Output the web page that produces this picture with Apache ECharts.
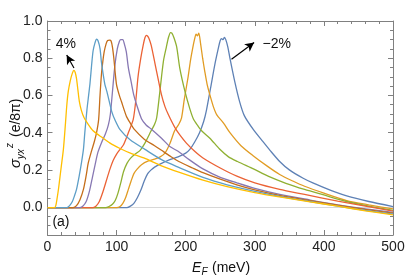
<!DOCTYPE html>
<html>
<head>
<meta charset="utf-8">
<script src="https://cdn.jsdelivr.net/npm/echarts@6/dist/echarts.min.js"></script>
<style>
html,body{margin:0;padding:0;background:#fff;}
#c{width:415px;height:277px;}
</style>
</head>
<body>
<div id="c"></div>
<script>
// x: E_F (meV), y: sigma_yx^z (e/8pi)
const xTicks = [0, 100, 200, 300, 400, 500];
const yTicks = [0, 0.2, 0.4, 0.6, 0.8, 1.0];
const yMinorTicks = [-0.15,-0.1,-0.05,0.05,0.1,0.15,0.25,0.3,0.35,0.45,0.5,0.55,0.65,0.7,0.75,0.85,0.9,0.95];

const curveBlue = [[0,-0.003],[115,-0.003],[120,0.005],[125,0.02],[130,0.05],[135,0.09],[140,0.14],[145,0.18],[150,0.2],[155,0.215],[165,0.235],[177,0.255],[189,0.27],[200,0.29],[206,0.31],[213,0.35],[220,0.4],[226,0.46],[230,0.52],[236,0.64],[242,0.763],[247,0.85],[250,0.895],[252,0.905],[254,0.9],[256,0.912],[258,0.9],[261,0.86],[264,0.8],[271,0.674],[278,0.567],[285,0.49],[298,0.416],[310,0.36],[322,0.305],[336,0.245],[350,0.2],[370,0.155],[384,0.13],[410,0.09],[433,0.06],[465,0.03],[500,0.003]];
const curveOrange = [[0,-0.003],[100,-0.003],[105,0.003],[109,0.02],[113,0.05],[117,0.095],[121,0.14],[125,0.18],[130,0.205],[136,0.228],[146,0.248],[155,0.258],[163,0.27],[170,0.29],[177,0.34],[184,0.41],[190,0.445],[194,0.48],[198,0.58],[203.5,0.7],[207,0.79],[210,0.852],[213,0.905],[215,0.93],[217,0.92],[219,0.935],[221.5,0.88],[224.5,0.8],[227.7,0.727],[231,0.66],[235,0.603],[240,0.54],[245,0.496],[255,0.45],[264,0.4],[280,0.33],[298,0.275],[318,0.22],[336,0.175],[355,0.14],[372,0.112],[400,0.075],[433,0.035],[465,0.012],[500,-0.01]];
const curveGreen = [[0,-0.003],[84,-0.003],[89,0.003],[94,0.015],[98,0.035],[102,0.075],[106,0.13],[110,0.19],[115,0.235],[120,0.262],[127,0.285],[134,0.305],[141,0.344],[150,0.41],[155,0.445],[158,0.48],[162,0.6],[165,0.7],[168,0.79],[172,0.86],[175,0.91],[178,0.938],[180,0.935],[183,0.91],[187,0.86],[191.5,0.745],[199,0.62],[206,0.528],[211,0.475],[217,0.44],[223,0.41],[235,0.37],[249,0.312],[262,0.27],[275,0.245],[298,0.205],[320,0.165],[345,0.128],[372,0.095],[400,0.065],[433,0.03],[465,0.005],[500,-0.018]];
const curveRed = [[0,-0.003],[65,-0.003],[70,0.005],[75,0.03],[80,0.08],[85,0.14],[90,0.2],[95,0.25],[100,0.285],[105,0.31],[110,0.335],[117,0.4],[124,0.47],[128,0.58],[131,0.7],[135,0.8],[138.5,0.87],[141,0.91],[143,0.923],[145,0.918],[147,0.905],[150,0.87],[154,0.8],[158,0.727],[165,0.603],[170,0.54],[175,0.496],[184,0.43],[192,0.385],[201,0.344],[213,0.3],[225,0.264],[250,0.21],[274,0.166],[300,0.13],[336,0.095],[372,0.068],[420,0.032],[460,0.005],[500,-0.022]];
const curvePurple = [[0,-0.003],[46,-0.003],[51,0.005],[56,0.03],[61,0.09],[65,0.16],[69,0.23],[73,0.295],[78,0.345],[84,0.395],[88,0.44],[91,0.5],[94,0.62],[97.5,0.76],[101,0.85],[104,0.89],[106,0.9],[109,0.9],[111,0.88],[114,0.835],[117,0.75],[121,0.674],[125,0.6],[129,0.55],[136,0.475],[143,0.44],[150,0.42],[165,0.37],[177,0.325],[189,0.3],[205,0.255],[225,0.205],[250,0.16],[274,0.13],[300,0.1],[336,0.068],[380,0.038],[420,0.012],[460,-0.01],[500,-0.028]];
const curveBrown = [[0,-0.003],[37,-0.003],[42,0.008],[47,0.04],[52,0.095],[56,0.17],[59,0.237],[64,0.305],[68,0.355],[71,0.4],[74,0.47],[76,0.6],[78,0.71],[80,0.78],[82,0.834],[85,0.88],[87,0.895],[90,0.897],[92,0.893],[94,0.86],[96,0.8],[98,0.72],[100,0.656],[104,0.6],[107,0.567],[114,0.49],[120,0.45],[126,0.416],[140,0.365],[155,0.33],[165,0.305],[177,0.275],[190,0.245],[210,0.21],[225,0.185],[250,0.15],[274,0.12],[300,0.093],[336,0.063],[380,0.035],[420,0.01],[460,-0.012],[500,-0.032]];
const curveLightBlue = [[0,-0.003],[28,-0.003],[32,0.008],[36,0.03],[39,0.06],[42,0.095],[46,0.17],[49,0.235],[52,0.31],[54,0.4],[57,0.52],[59.5,0.6],[61.5,0.665],[64,0.77],[66,0.84],[68.5,0.88],[71,0.902],[73,0.895],[76,0.852],[78,0.78],[80.7,0.71],[83,0.66],[86,0.62],[93,0.513],[98,0.465],[105,0.416],[120,0.36],[141,0.31],[165,0.255],[189,0.215],[225,0.16],[260,0.12],[300,0.085],[336,0.058],[380,0.03],[420,0.005],[460,-0.018],[500,-0.038]];
const curveYellow = [[0,-0.003],[10,-0.003],[12,0.008],[14,0.05],[16,0.1],[18,0.16],[20,0.22],[23,0.31],[26,0.45],[28,0.55],[30,0.62],[33,0.68],[36,0.72],[38,0.735],[40,0.725],[42,0.69],[44,0.63],[46,0.57],[49,0.52],[53,0.48],[58,0.45],[66,0.41],[75,0.385],[90,0.345],[105,0.315],[120,0.29],[141,0.262],[165,0.222],[190,0.188],[225,0.145],[260,0.11],[300,0.078],[340,0.052],[380,0.028],[420,0.005],[460,-0.02],[500,-0.042]];

const curves = [curveBlue, curveOrange, curveGreen, curveRed, curvePurple, curveBrown, curveLightBlue, curveYellow];
const colors = ['#5E81B5','#E19C24','#8FB032','#EB6235','#8778B3','#C56E1A','#5D9EC7','#FFBF00'];

// annotations (data coordinates)
const arrow4 = [[38.3,0.747],[27.8,0.817]];
const arrowM2 = [[266.3,0.794],[299,0.884]];
const label4 = {text:'4%', at:[26.7,0.876]};
const labelM2 = {text:'\u22122%', at:[331.8,0.875]};
const labelA = {text:'(a)', at:[19.5,-0.083]};

const FONT = "'Liberation Sans', Arial, sans-serif";
const frameColor = '#808080';

const chart = echarts.init(document.getElementById('c'), null, {renderer:'canvas'});

function xAx(pos, showLabel){
  return {
    type:'value', position:pos, min:0, max:500, interval:100,
    axisLine:{show:true, onZero:false, lineStyle:{color:frameColor, width:1}},
    axisTick:{show:true, inside:true, length:5, lineStyle:{color:frameColor}},
    minorTick:{show:true, splitNumber:5, length:3, lineStyle:{color:frameColor}},
    splitLine:{show:false}, minorSplitLine:{show:false},
    axisLabel:{show:showLabel, fontSize:14, color:'#222', fontFamily:FONT, margin:5}
  };
}
function yAx(pos, major){
  return {
    type:'value', position:pos, min:-0.15, max:1.0,
    axisLine:{show:major, onZero:false, lineStyle:{color:frameColor, width:1}},
    axisTick:{show:true, inside:true, length: major?5:3, customValues: major ? yTicks : yMinorTicks, lineStyle:{color:frameColor}},
    splitLine:{show:false},
    axisLabel:{show: major && pos==='left', customValues: yTicks, fontSize:14, color:'#222', fontFamily:FONT, margin:5,
      formatter:v=>v.toFixed(1)}
  };
}

const series = curves.map((d,i)=>({
  type:'line', data:d, xAxisIndex:0, yAxisIndex:0, showSymbol:false, symbol:'none',
  smooth:0.25, color:colors[i], lineStyle:{width:1.3, color:colors[i]}, z:3+i, silent:true
}));
series[0].markLine = {
  silent:true, symbol:['none','none'], animation:false,
  lineStyle:{color:'#d8d8d8', width:1, type:'solid'}, label:{show:false},
  data:[{yAxis:0}], z:1
};
series.push({
  type:'line', data:[], xAxisIndex:0, yAxisIndex:0, z:20,
  markLine:{
    silent:true, animation:false, symbol:['none','arrow'], symbolSize:[7,9],
    lineStyle:{color:'#000', width:1.2, type:'solid'}, label:{show:false},
    data:[
      [{coord:arrow4[0]},{coord:arrow4[1]}],
      [{coord:arrowM2[0]},{coord:arrowM2[1]}]
    ]
  }
});

chart.setOption({
  animation:false,
  backgroundColor:'#fff',
  grid:{left:47.5, right:22, top:21, bottom:42, containLabel:false},
  xAxis:[xAx('bottom',true), xAx('top',false)],
  yAxis:[yAx('left',true), yAx('left',false), yAx('right',true), yAx('right',false)],
  series:series
});

function px(p){ return chart.convertToPixel({gridIndex:0}, p); }
const p4 = px(label4.at), pM2 = px(labelM2.at), pA = px(labelA.at);
const textStyleBase = {fontFamily:FONT, fontSize:14, fill:'#111', align:'center', verticalAlign:'middle'};

chart.setOption({
  graphic:[
    {type:'text', x:p4[0], y:p4[1], style:Object.assign({text:label4.text}, textStyleBase), z:30},
    {type:'text', x:pM2[0], y:pM2[1], style:Object.assign({text:labelM2.text}, textStyleBase), z:30},
    {type:'text', x:pA[0], y:pA[1], style:Object.assign({text:labelA.text}, textStyleBase), z:30},
    // x-axis title
    {type:'group', x:192, y:268, children:[
      {type:'text', x:0, y:0, style:{text:'E', fontFamily:FONT, fontSize:14, fontStyle:'italic', fill:'#111', verticalAlign:'middle'}},
      {type:'text', x:9.5, y:4, style:{text:'F', fontFamily:FONT, fontSize:10, fontStyle:'italic', fill:'#111', verticalAlign:'middle'}},
      {type:'text', x:20, y:0, style:{text:'(meV)', fontFamily:FONT, fontSize:14, fill:'#111', verticalAlign:'middle'}}
    ]},
    // y-axis title, rotated
    {type:'group', x:16, y:168, rotation:Math.PI/2, children:[
      {type:'text', x:0, y:0, style:{text:'\u03c3', fontFamily:FONT, fontSize:15, fontStyle:'italic', fill:'#111', verticalAlign:'middle'}},
      {type:'text', x:9, y:5, style:{text:'yx', fontFamily:FONT, fontSize:10, fontStyle:'italic', fill:'#111', verticalAlign:'middle'}},
      {type:'text', x:20, y:-6, style:{text:'z', fontFamily:FONT, fontSize:10, fontStyle:'italic', fill:'#111', verticalAlign:'middle'}},
      {type:'text', x:31, y:0, style:{text:'(e/8\u03c0)', fontFamily:FONT, fontSize:14, fill:'#111', verticalAlign:'middle'}}
    ]}
  ]
});
</script>
</body>
</html>
